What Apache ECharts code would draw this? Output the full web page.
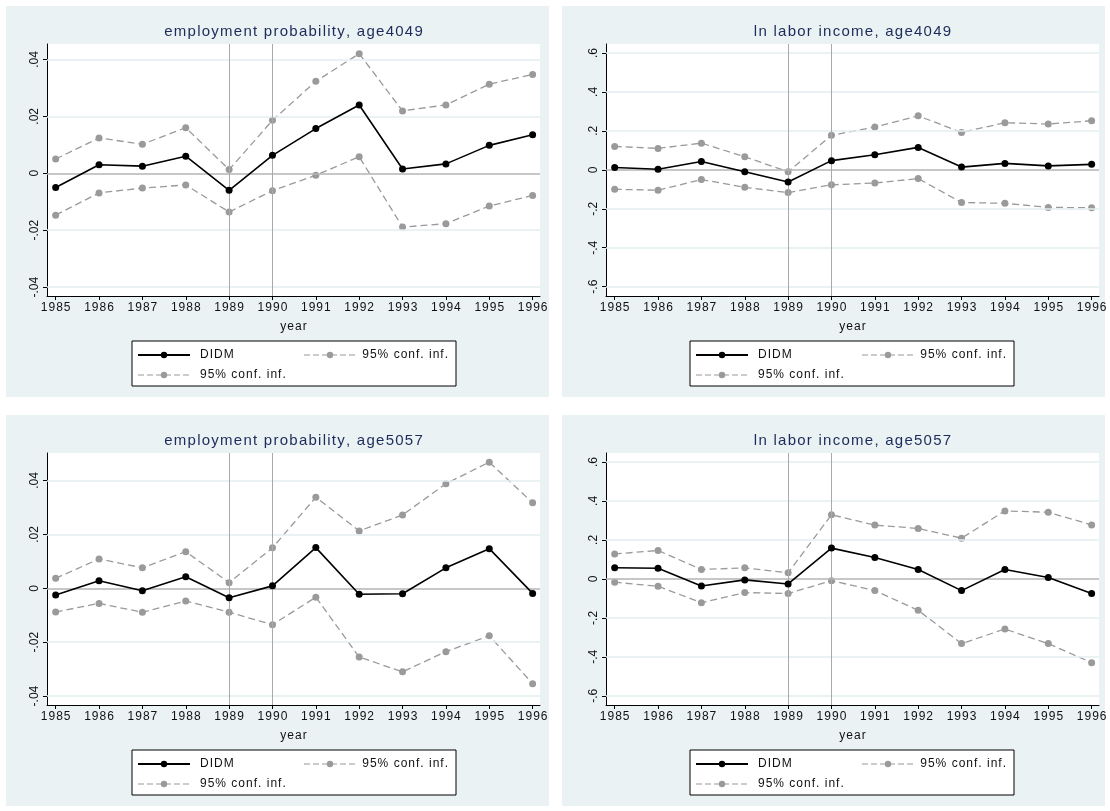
<!DOCTYPE html>
<html><head><meta charset="utf-8">
<script src="https://cdn.jsdelivr.net/npm/echarts@6/dist/echarts.min.js"></script>
<style>html,body{margin:0;padding:0;background:#fff}#c{width:1110px;height:811px}</style>
</head><body><div id="c"></div>
<script>
const years = [1985,1986,1987,1988,1989,1990,1991,1992,1993,1994,1995,1996];
const titles = ['employment probability, age4049','ln labor income, age4049','employment probability, age5057','ln labor income, age5057'];
const emp4049_didm = [-0.005,0.003,0.0025,0.006,-0.006,0.0063,0.0157,0.024,0.0015,0.0033,0.0098,0.0135];
const emp4049_hi   = [0.005,0.0124,0.0102,0.016,0.0013,0.0186,0.0323,0.042,0.0219,0.024,0.0313,0.0347];
const emp4049_lo   = [-0.0147,-0.0069,-0.0052,-0.0041,-0.0136,-0.0061,-0.0007,0.0058,-0.0189,-0.0177,-0.0115,-0.0078];
const inc4049_didm = [0.012,0.003,0.043,-0.01,-0.063,0.047,0.077,0.115,0.014,0.033,0.02,0.028];
const inc4049_hi   = [0.12,0.11,0.137,0.067,-0.01,0.177,0.22,0.277,0.192,0.242,0.235,0.252];
const inc4049_lo   = [-0.1,-0.105,-0.05,-0.09,-0.117,-0.077,-0.068,-0.045,-0.168,-0.172,-0.193,-0.195];
const emp5057_didm = [-0.0025,0.0028,-0.0009,0.0043,-0.0035,0.0009,0.0151,-0.0022,-0.002,0.0076,0.0147,-0.0019];
const emp5057_hi   = [0.0037,0.0109,0.0076,0.0136,0.0021,0.015,0.0338,0.0213,0.0272,0.0388,0.0468,0.0317];
const emp5057_lo   = [-0.0088,-0.0056,-0.0089,-0.0047,-0.0089,-0.0135,-0.0033,-0.0255,-0.031,-0.0235,-0.0176,-0.0354];
const inc5057_didm = [0.057,0.055,-0.036,-0.005,-0.026,0.158,0.11,0.048,-0.06,0.048,0.007,-0.075];
const inc5057_hi   = [0.128,0.146,0.048,0.057,0.031,0.329,0.276,0.259,0.209,0.349,0.342,0.277];
const inc5057_lo   = [-0.017,-0.038,-0.122,-0.07,-0.075,-0.009,-0.06,-0.161,-0.332,-0.257,-0.332,-0.43];
const empTicks = [-0.04,-0.02,0,0.02,0.04];
const incTicks = [-0.6,-0.4,-0.2,0,0.2,0.4,0.6];
const refYears = [1989,1990];

const panels = [
  {d:emp4049_didm,h:emp4049_hi,l:emp4049_lo,ticks:empTicks,min:-0.0431,max:0.0454},
  {d:inc4049_didm,h:inc4049_hi,l:inc4049_lo,ticks:incTicks,min:-0.648,max:0.646},
  {d:emp5057_didm,h:emp5057_hi,l:emp5057_lo,ticks:empTicks,min:-0.0433,max:0.0502},
  {d:inc5057_didm,h:inc5057_hi,l:inc5057_lo,ticks:incTicks,min:-0.647,max:0.646}
];
const geo = [
  {bx:6,by:6,px:47,py:44,lx:132,ly:341},
  {bx:562,by:6,px:606,py:44,lx:690,ly:341},
  {bx:6,by:415,px:47,py:453,lx:132,ly:750},
  {bx:562,by:415,px:606,py:453,lx:690,ly:750}
];
const PW=493, PH=252, BW=543, BH=391;
const font='"Liberation Sans", Arial, sans-serif';
const fmt = v => { if (Math.abs(v)<1e-9) return '0'; let s=String(+v.toFixed(3)); return s.replace('0.','.'); };
const spaced = s => s.split('').join('\u200A');
const grid=[],xAxis=[],yAxis=[],series=[],graphic=[];
const gray='#9a9a9a';
panels.forEach((p,i)=>{
  const g=geo[i];
  graphic.push({type:'rect',shape:{x:g.bx,y:g.by,width:BW,height:BH},style:{fill:'#eaf2f3'},z:-10});
  graphic.push({type:'rect',shape:{x:g.px,y:g.py,width:PW,height:PH},style:{fill:'#ffffff'},z:-9});
  graphic.push({type:'text',x:g.px+PW/2,y:g.py-12,style:{text:spaced(titles[i]),font:'15px '+font,fill:'#1c2b5a',textAlign:'center',textVerticalAlign:'middle'}});
  graphic.push({type:'text',x:g.px+PW/2,y:g.py+PH+31,style:{text:spaced('year'),font:'12px '+font,fill:'#111',textAlign:'center',textVerticalAlign:'middle'}});
  const lx=g.lx, ly=g.ly;
  graphic.push({type:'rect',shape:{x:lx,y:ly,width:324,height:45},style:{fill:'#fff',stroke:'#000',lineWidth:1}});
  const items=[{x:lx+6,y:ly+14,t:'DIDM',c:'#000',dash:null},{x:lx+172,y:ly+14,t:'95% conf. inf.',c:gray,dash:[6,3]},{x:lx+6,y:ly+34,t:'95% conf. inf.',c:gray,dash:[6,3]}];
  items.forEach((it,k)=>{
    const textFirst = k===1;
    const lineX = it.x;
    graphic.push({type:'line',shape:{x1:lineX,y1:it.y,x2:lineX+52,y2:it.y},style:{stroke:it.c,lineWidth:it.dash?1.2:2,lineDash:it.dash||null}});
    graphic.push({type:'circle',shape:{cx:lineX+26,cy:it.y,r:3.2},style:{fill:it.c}});
    graphic.push({type:'text',x:textFirst?lx+316:lineX+62,y:it.y,style:{text:spaced(it.t),font:'12px '+font,fill:'#111',textAlign:textFirst?'right':'left',textVerticalAlign:'middle'}});
  });
  grid.push({left:g.px,top:g.py,width:PW,height:PH,containLabel:false});
  xAxis.push({gridIndex:i,type:'value',min:1984.8,max:1996.17,
    axisLine:{onZero:false,lineStyle:{color:'#000'}},axisTick:{customValues:years,length:4,lineStyle:{color:'#000'}},
    axisLabel:{customValues:years,formatter:v=>spaced(String(v)),color:'#111',fontFamily:font,fontSize:12,margin:6},splitLine:{show:false}});
  yAxis.push({gridIndex:i,type:'value',min:p.min,max:p.max,
    axisLine:{show:true,lineStyle:{color:'#000'}},axisTick:{show:true,customValues:p.ticks,length:4,lineStyle:{color:'#000'}},
    axisLabel:{customValues:p.ticks,rotate:90,formatter:fmt,color:'#111',fontFamily:font,fontSize:12,margin:6},
    splitLine:{show:false}});
  const mk=(name,arr,color,dash,width,extra)=>Object.assign({type:'line',name,xAxisIndex:i,yAxisIndex:i,
    data:years.map((y,k)=>[y,arr[k]]),symbol:'circle',symbolSize:7,showSymbol:true,
    lineStyle:{color,width,type:dash},itemStyle:{color},emphasis:{disabled:true},animation:false},extra||{});
  series.push(mk('grid',p.d.map(()=>null),'#000','solid',1,{symbol:'none',silent:true,
    markLine:{silent:true,symbol:'none',label:{show:false},animation:false,
      data:[...p.ticks.filter(t=>t!==0).map(t=>({yAxis:t,lineStyle:{color:'#e4eef1',width:1.5,type:'solid'}})),
            {yAxis:0,lineStyle:{color:'#b5b5b5',width:1.5,type:'solid'}},
            ...refYears.map(y=>({xAxis:y,lineStyle:{color:'#aaaaaa',width:1,type:'solid'}}))]}}));
  series.push(mk('95% conf. inf.',p.h,gray,[7,4],1.3));
  series.push(mk('95% conf. inf.',p.l,gray,[7,4],1.3));
  series.push(mk('DIDM',p.d,'#000','solid',1.6,{z:5}));
});
const chart=echarts.init(document.getElementById('c'));
chart.setOption({animation:false,grid,xAxis,yAxis,series,graphic});
</script></body></html>
